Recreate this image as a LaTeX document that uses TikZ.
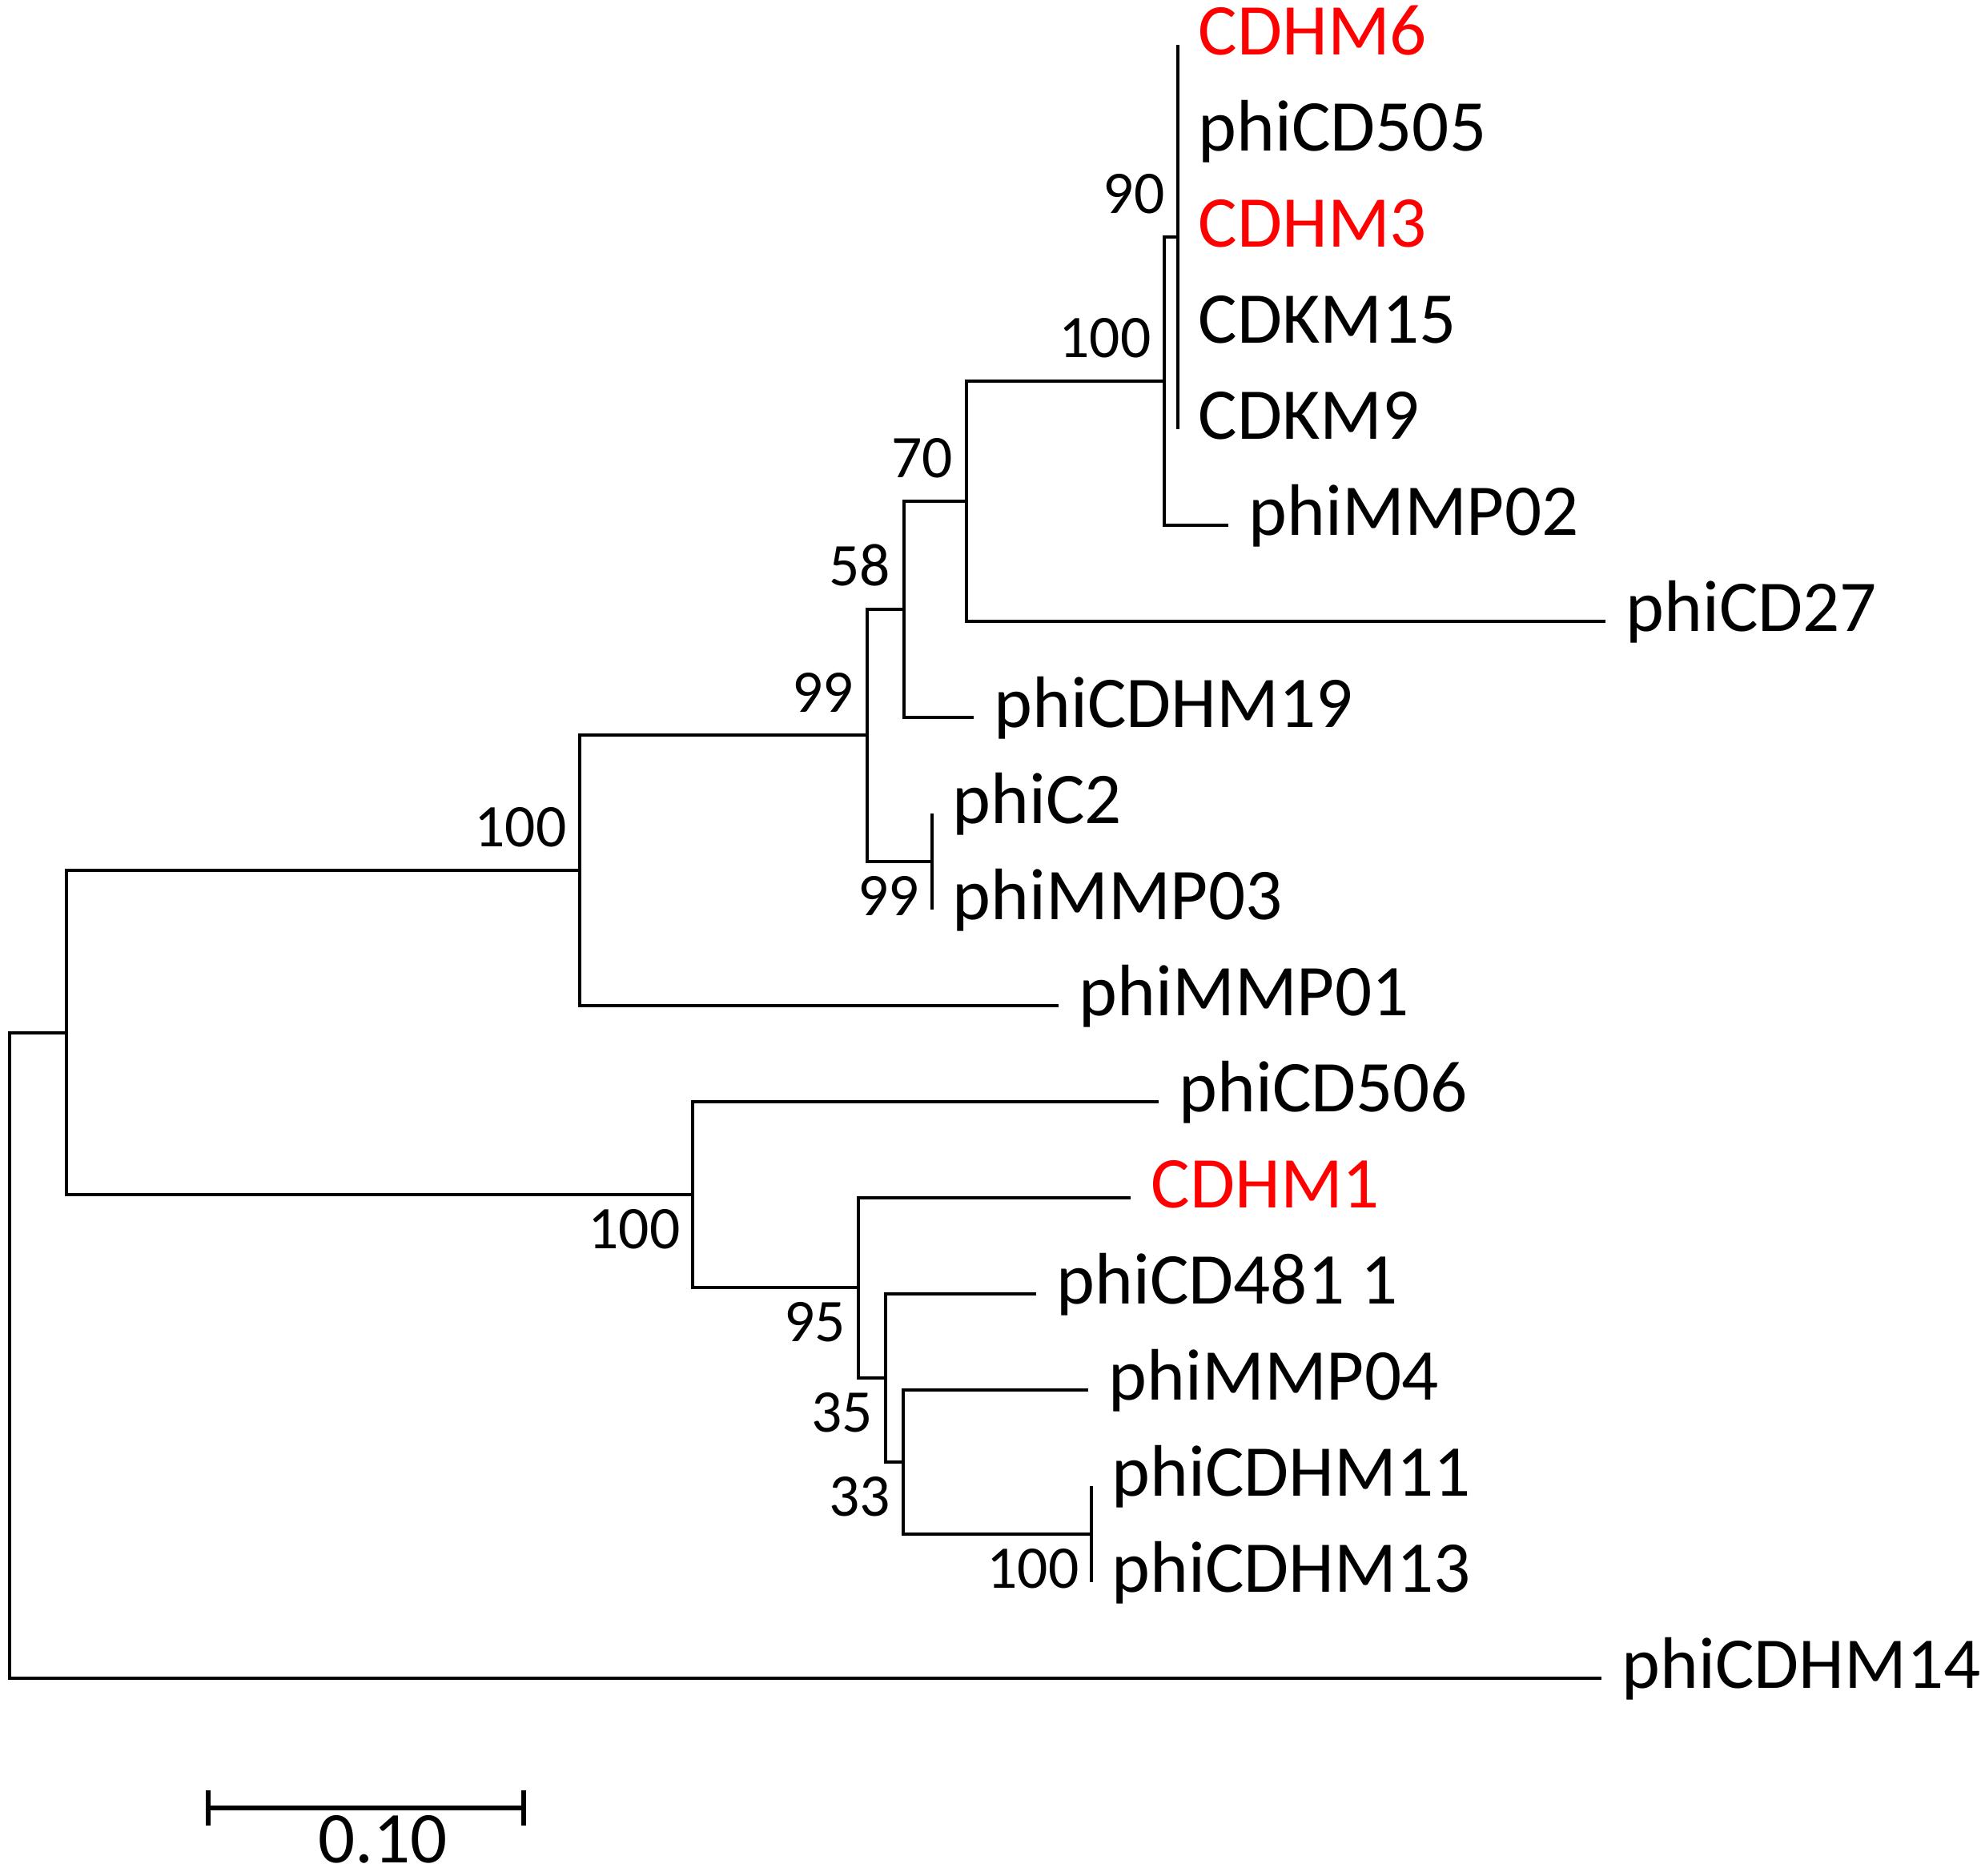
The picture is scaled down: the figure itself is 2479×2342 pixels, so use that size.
\documentclass[tikz,border=0pt]{standalone}
\usepackage{fontspec}
\setmainfont{Carlito}
\tikzset{
  branch/.style={line width=1.4pt},
  scalebar/.style={line width=1.6pt},
  taxon/.style={anchor=base west, inner sep=0pt, xshift=0.25cm, yshift=-0.12cm, font=\fontsize{25.9}{30}\selectfont},
  hit/.style={taxon, text=red},
  bootup/.style={anchor=south east, inner sep=0pt, xshift=-0.16cm, yshift=0.28cm, font=\fontsize{21.5}{24}\selectfont},
  bootdown/.style={anchor=north east, inner sep=0pt, xshift=-0.15cm, yshift=-0.18cm, font=\fontsize{21.5}{24}\selectfont}
}
\begin{document}
\begin{tikzpicture}[x=0.01cm, y=-0.01cm]
  \useasboundingbox (0,0) rectangle (2479,2342);
  % inner nodes
  \coordinate (root) at (12,1693);
  \coordinate (n1) at (83,1290);
  \coordinate (n2) at (724,1087);
  \coordinate (n3) at (1083,918);
  \coordinate (n4) at (1129,761);
  \coordinate (n5) at (1207,626);
  \coordinate (n6) at (1454,476);
  \coordinate (n7) at (1471,296);
  \coordinate (n8) at (1164,1076);
  \coordinate (n9) at (865,1492);
  \coordinate (n10) at (1072,1608);
  \coordinate (n11) at (1106,1721);
  \coordinate (n12) at (1128,1826);
  \coordinate (n13) at (1363,1916);
  % tips
  \coordinate (t1) at (1471,56);
  \coordinate (t2) at (1471,176);
  \coordinate (t3) at (1471,296);
  \coordinate (t4) at (1471,416);
  \coordinate (t5) at (1471,536);
  \coordinate (t6) at (1534,656);
  \coordinate (t7) at (2005,776);
  \coordinate (t8) at (1216,896);
  \coordinate (t9) at (1164,1016);
  \coordinate (t10) at (1164,1136);
  \coordinate (t11) at (1322,1256);
  \coordinate (t12) at (1447,1376);
  \coordinate (t13) at (1412,1496);
  \coordinate (t14) at (1294,1616);
  \coordinate (t15) at (1359,1736);
  \coordinate (t16) at (1363,1856);
  \coordinate (t17) at (1363,1976);
  \coordinate (t18) at (2000,2096);

  % branches
  \draw[branch] (n1) -| (root) |- (t18);
  \draw[branch] (n2) -| (n1) |- (n9);
  \draw[branch] (n3) -| (n2) |- (t11);
  \draw[branch] (n4) -| (n3) |- (n8);
  \draw[branch] (n5) -| (n4) |- (t8);
  \draw[branch] (n6) -| (n5) |- (t7);
  \draw[branch] (n7) -| (n6) |- (t6);
  \draw[branch] (t1) -- (t5);
  \draw[branch] (t9) -- (t10);
  \draw[branch] (t12) -| (n9) |- (n10);
  \draw[branch] (t13) -| (n10) |- (n11);
  \draw[branch] (t14) -| (n11) |- (n12);
  \draw[branch] (t15) -| (n12) |- (n13);
  \draw[branch] (t16) -- (t17);

  % taxa
  \node[hit] (cdhm6) at (t1) {CDHM6};
  \node[taxon] (cd505) at (t2) {phiCD505};
  \node[hit] (cdhm3) at (t3) {CDHM3};
  \node[taxon] (cdkm15) at (t4) {CDKM15};
  \node[taxon] (cdkm9) at (t5) {CDKM9};
  \node[taxon] (mmp02) at (t6) {phiMMP02};
  \node[taxon] (cd27) at (t7) {phiCD27};
  \node[taxon] (cdhm19) at (t8) {phiCDHM19};
  \node[taxon] (c2) at (t9) {phiC2};
  \node[taxon] (mmp03) at (t10) {phiMMP03};
  \node[taxon] (mmp01) at (t11) {phiMMP01};
  \node[taxon] (cd506) at (t12) {phiCD506};
  \node[hit] (cdhm1) at (t13) {CDHM1};
  \node[taxon] (cd481) at (t14) {phiCD481 1};
  \node[taxon] (mmp04) at (t15) {phiMMP04};
  \node[taxon] (cdhm11) at (t16) {phiCDHM11};
  \node[taxon] (cdhm13) at (t17) {phiCDHM13};
  \node[taxon] (cdhm14) at (t18) {phiCDHM14};

  % bootstrap values
  \node[bootup] (b7) at (n7) {90};
  \node[bootup] (b6) at (n6) {100};
  \node[bootup] (b5) at (n5) {70};
  \node[bootup] (b4) at (n4) {58};
  \node[bootup] (b3) at (n3) {99};
  \node[bootup] (b2) at (n2) {100};
  \node[bootdown] (b8) at (n8) {99};
  \node[bootdown] (b9) at (n9) {100};
  \node[bootdown] (b10) at (n10) {95};
  \node[bootdown] (b11) at (n11) {35};
  \node[bootdown] (b12) at (n12) {33};
  \node[bootdown] (b13) at (n13) {100};

  % scale bar
  \coordinate (s0) at (260,2258);
  \coordinate (s1) at (654,2258);
  \draw[scalebar] (s0) -- (s1);
  \draw[scalebar] ([yshift=0.22cm]s0) -- ([yshift=-0.22cm]s0);
  \draw[scalebar] ([yshift=0.22cm]s1) -- ([yshift=-0.22cm]s1);
  \node[anchor=north, inner sep=0pt, text depth=0pt, font=\fontsize{25.9}{30}\selectfont] (scale) at (478,2267) {0.10};
\end{tikzpicture}
\end{document}
